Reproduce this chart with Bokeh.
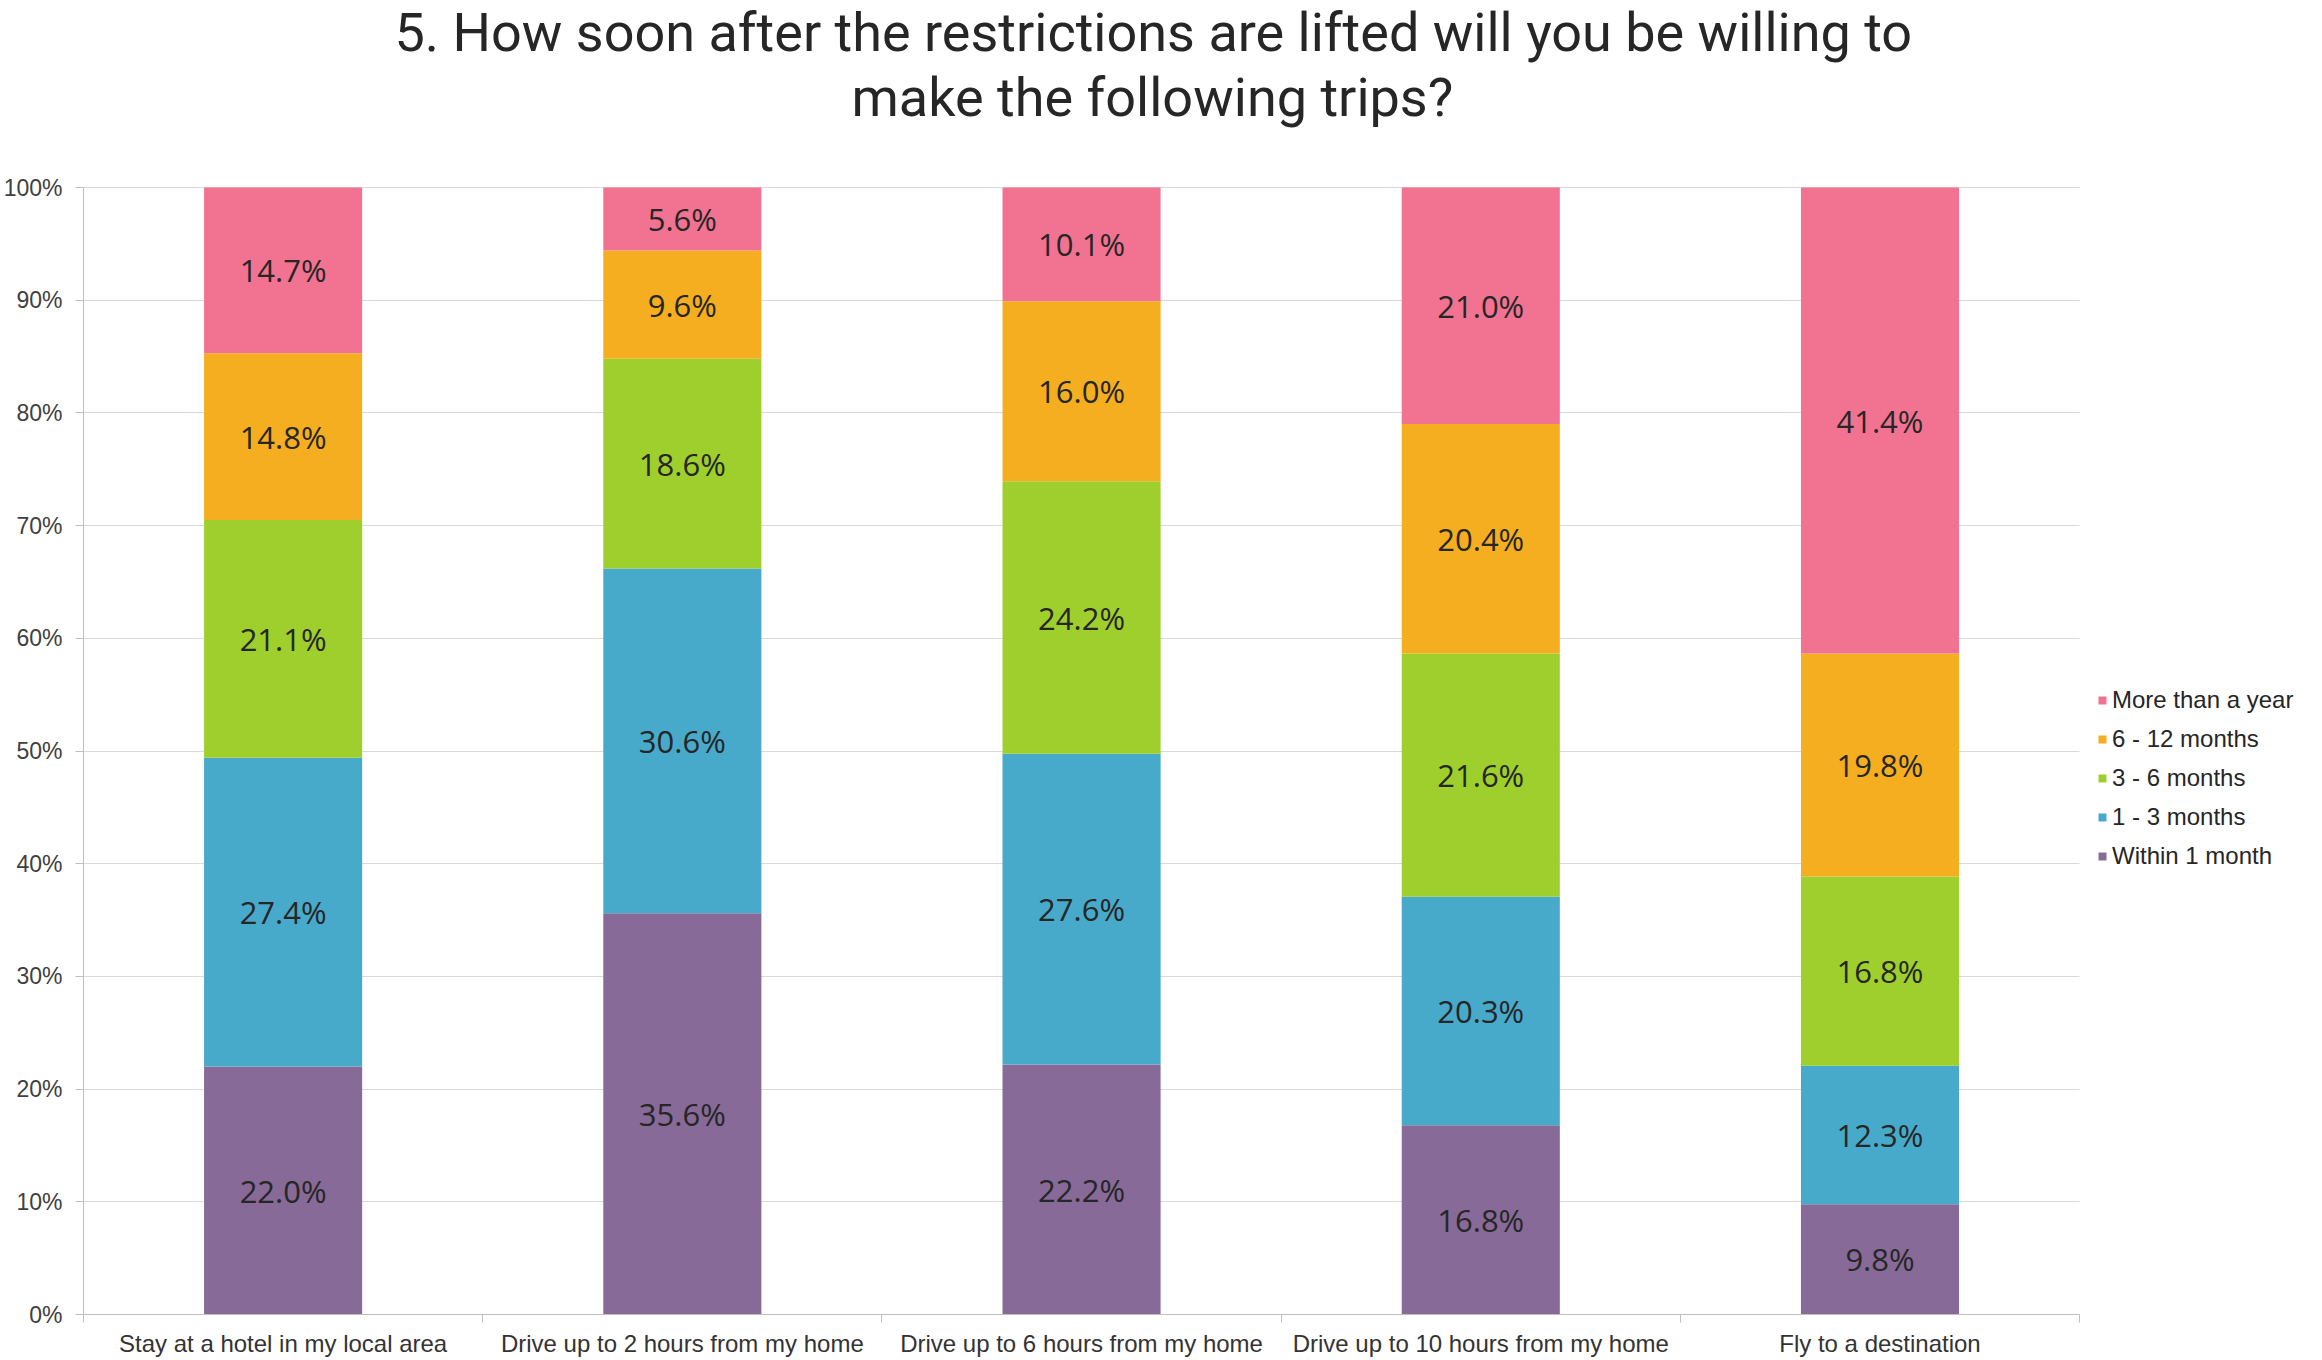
from bokeh.plotting import figure
from bokeh.models import (ColumnDataSource, Legend, LegendItem, FixedTicker, Range1d,
                          Title, LabelSet)
from bokeh.core.properties import value
from bokeh.embed import file_html
from bokeh.resources import INLINE

categories = ["Stay at a hotel in my local area", "Drive up to 2 hours from my home",
              "Drive up to 6 hours from my home", "Drive up to 10 hours from my home",
              "Fly to a destination"]
series_names = ["Within 1 month", "1 - 3 months", "3 - 6 months", "6 - 12 months",
                "More than a year"]
within_1_month = [22.0, 35.6, 22.2, 16.8, 9.8]
one_to_3_months = [27.4, 30.6, 27.6, 20.3, 12.3]
three_to_6_months = [21.1, 18.6, 24.2, 21.6, 16.8]
six_to_12_months = [14.8, 9.6, 16.0, 20.4, 19.8]
more_than_a_year = [14.7, 5.6, 10.1, 21.0, 41.4]
y_ticks = [0, 10, 20, 30, 40, 50, 60, 70, 80, 90, 100]
colors = ["#876A97", "#48AACA", "#9ECF2C", "#F4AE20", "#F17391"]
title_lines = ["5. How soon after the restrictions are lifted will you be willing to",
               "make the following trips?"]

series_values = [within_1_month, one_to_3_months, three_to_6_months,
                 six_to_12_months, more_than_a_year]
keys = ["s0", "s1", "s2", "s3", "s4"]
n = len(categories)
xs = list(range(n))
totals = [sum(v[i] for v in series_values) for i in xs]

data = {"x": xs}
for k, vals in zip(keys, series_values):
    data[k] = [vals[i] / totals[i] * 100 for i in xs]
source = ColumnDataSource(data)

lx, ly, lt = [], [], []
for i in xs:
    cum = 0.0
    for k, vals in zip(keys, series_values):
        h = data[k][i]
        lx.append(i)
        ly.append(cum + h / 2)
        lt.append(f"{vals[i]:.1f}%")
        cum += h
label_src = ColumnDataSource(dict(x=lx, y=ly, t=lt))

# layout (pixels)
W, H = 2322, 1360
BL, BR, BB = 82, 10, 46
plot_w = 1997          # width of the category area
frame_top = 130        # top of frame (below the two title lines)
data_top = 187         # where 100% sits
frame_bottom = H - BB
frame_w = W - BL - BR
unit = plot_w / n
x_end = -0.5 + frame_w / unit
y_end = 100 * (frame_bottom - frame_top) / (frame_bottom - data_top)

p = figure(width=W, height=H, x_range=Range1d(-0.5, x_end),
           y_range=Range1d(0, y_end), output_backend="svg", toolbar_location=None,
           min_border_left=BL, min_border_right=BR, min_border_top=10,
           min_border_bottom=BB)
p.outline_line_color = None
p.xgrid.grid_line_color = None
p.ygrid.grid_line_color = "#D9D9D9"
p.ygrid.ticker = FixedTicker(ticks=y_ticks)
p.ygrid.cross_bounds = (-0.5, n - 0.5)

renderers = p.vbar_stack(keys, x="x", width=0.396, source=source, color=colors,
                         line_color=None)

labels = LabelSet(x="x", y="y", text="t", source=label_src, text_align="center",
                  text_baseline="middle", text_font=value("Open Sans"),
                  text_font_size="31px", text_color="#262626")
p.add_layout(labels)

p.yaxis.ticker = FixedTicker(ticks=y_ticks)
p.yaxis.bounds = (0, 100)
p.yaxis.major_label_overrides = {t: f"{t}%" for t in y_ticks}
p.yaxis.major_label_text_font = "Liberation Sans"
p.yaxis.major_label_text_font_size = "23px"
p.yaxis.major_label_text_color = "#404040"
p.yaxis.axis_line_color = "#BFBFBF"
p.yaxis.major_tick_line_color = "#BFBFBF"
p.yaxis.major_tick_out = 8
p.yaxis.major_tick_in = 0
p.yaxis.minor_tick_line_color = None
p.yaxis.major_label_standoff = 13

p.xaxis.ticker = FixedTicker(ticks=xs, minor_ticks=[i - 0.5 for i in range(n + 1)])
p.xaxis.bounds = (-0.5, n - 0.5)
p.xaxis.major_label_overrides = {i: c for i, c in zip(xs, categories)}
p.xaxis.major_label_text_font = "Liberation Sans"
p.xaxis.major_label_text_font_size = "24px"
p.xaxis.major_label_text_color = "#333333"
p.xaxis.axis_line_color = "#BFBFBF"
p.xaxis.major_tick_line_color = None
p.xaxis.major_tick_out = 0
p.xaxis.major_tick_in = 0
p.xaxis.minor_tick_line_color = "#BFBFBF"
p.xaxis.minor_tick_out = 8
p.xaxis.minor_tick_in = 0
p.xaxis.major_label_standoff = 7

items = [LegendItem(label=s, renderers=[r]) for s, r in zip(series_names, renderers)][::-1]
legend = Legend(items=items, location=(plot_w + 17, 444), glyph_width=10, glyph_height=10,
                label_text_font="Liberation Sans", label_text_font_size="24px",
                label_text_color="#262626", label_standoff=5, label_height=24,
                spacing=11, padding=0, margin=0, border_line_color=None,
                background_fill_alpha=0)
p.add_layout(legend, "center")

p.title = None
t2 = Title(text=title_lines[1], align="left", vertical_align="top", text_font="Roboto",
           text_font_size="54px", text_font_style="normal", text_color="#262626",
           offset=768, standoff=0)
t1 = Title(text=title_lines[0], align="left", vertical_align="top", text_font="Roboto",
           text_font_size="54px", text_font_style="normal", text_color="#262626",
           offset=311, standoff=0)
p.add_layout(t2, "above")
p.add_layout(t1, "above")

open("out.html", "w").write(file_html(p, INLINE))
